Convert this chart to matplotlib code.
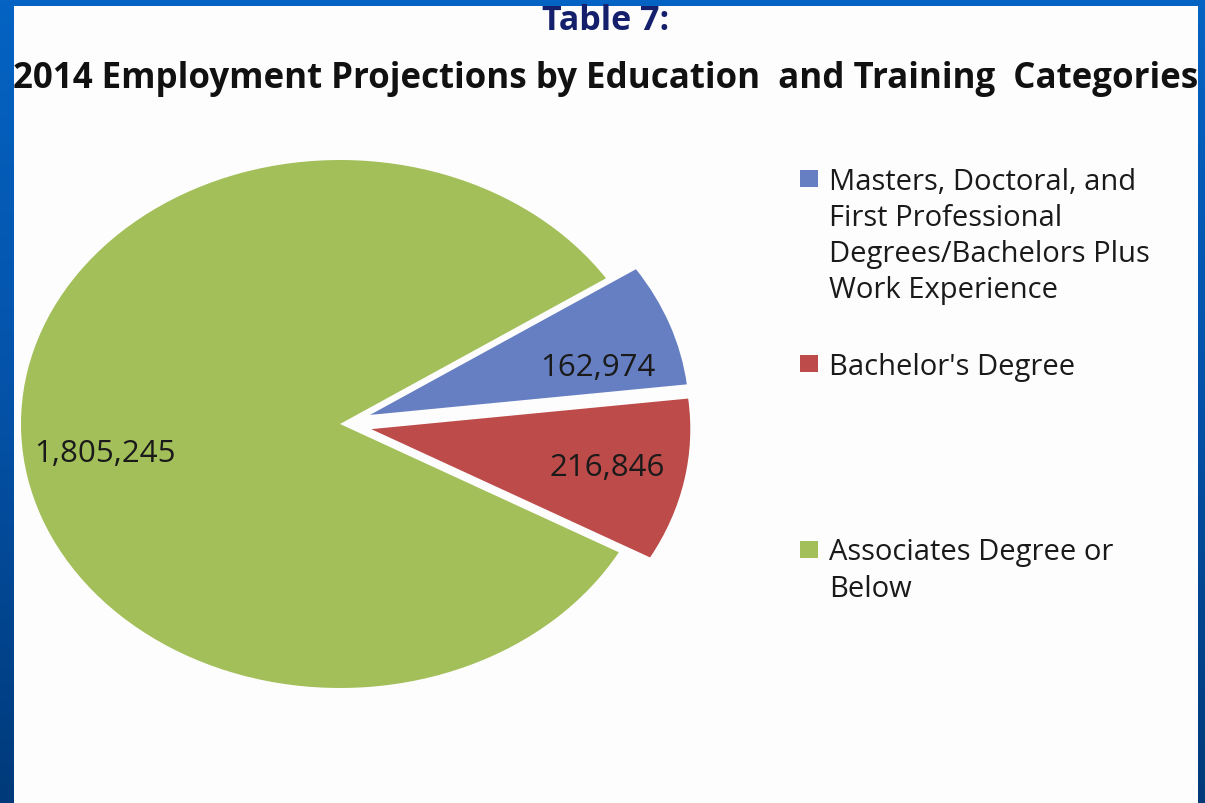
import matplotlib
matplotlib.use("Agg")
import numpy as np
import matplotlib.pyplot as plt
from matplotlib.colors import LinearSegmentedColormap
from matplotlib.transforms import ScaledTranslation

# ---------------- data ----------------
categories = [
    "Masters, Doctoral, and\nFirst Professional\nDegrees/Bachelors Plus\nWork Experience",
    "Bachelor's Degree",
    "Associates Degree or\nBelow",
]
values = [162974, 216846, 1805245]
colors = ["#667fc2", "#bd4b49", "#a3bf59"]
explode = [0.1, 0.1, 0.0]
title_top = "Table 7:"
title_main = "2014 Employment Projections by Education  and Training  Categories"

# ---------------- figure ----------------
W, H, DPI = 1205, 804, 100
FONT = "Open Sans"
fig = plt.figure(figsize=(W / DPI, H / DPI), dpi=DPI)

# slide background (blue gradient border)
bg = fig.add_axes([0, 0, 1, 1])
bg.set_axis_off()
grad = np.linspace(0, 1, 256).reshape(-1, 1)
cmap = LinearSegmentedColormap.from_list("slide", ["#0563c3", "#0452a8", "#003a7a"])
bg.imshow(grad, aspect="auto", cmap=cmap, extent=[0, 1, 0, 1])

# white panel, mapped in pixels; pie centre and radii in pixels
pl, pr, pt, pb = 14, 1198, 7, 804
cx, cy, rx, ry = 340, 425, 319, 264
ax = fig.add_axes([pl / W, 1 - pb / H, (pr - pl) / W, (pb - pt) / H])
ax.set_facecolor("#fdfdfd")

total = sum(values)
wedges, texts, autotexts = ax.pie(
    values,
    colors=colors,
    explode=explode,
    startangle=33.5,
    counterclock=False,
    radius=1,
    center=(0, 0),
    autopct=lambda p: f"{p * total / 100:,.0f}",
    pctdistance=0.75,
    wedgeprops=dict(linewidth=0),
    textprops=dict(family=FONT, fontsize=22.5, color="#1a1a1a"),
    frame=True,
)
ax.set_aspect("auto")
ax.set_xlim((pl - cx) / rx, (pr - cx) / rx)
ax.set_ylim((cy - pb) / ry, (cy - pt) / ry)
ax.set_xticks([])
ax.set_yticks([])
for s in ax.spines.values():
    s.set_visible(False)

# small nudges of the value labels (pixels)
nudges = [(3, -20), (1, 1), (4, -21)]
for t, (dx, dy) in zip(autotexts, nudges):
    t.set_transform(t.get_transform() + ScaledTranslation(dx / DPI, dy / DPI, fig.dpi_scale_trans))

# titles
fig.text(606 / W, 1 - 21 / H, title_top, ha="center", va="center",
         family=FONT, fontweight="bold", fontsize=24.5, color="#15206c")
fig.text(606 / W, 1 - 79 / H, title_main, ha="center", va="center",
         family=FONT, fontweight="bold", fontsize=25.1, color="#111111")

# legend: every entry padded to the same number of lines
n_lines = max(c.count("\n") + 1 for c in categories)
labels = [c + "\n" * (n_lines - c.count("\n") - 1) for c in categories]
LEG_FS = 21
LINESP = 1.32
leg = fig.legend(
    wedges, labels,
    loc="upper left", bbox_to_anchor=(800 / W, 1 - 168 / H),
    frameon=False,
    prop=dict(family=FONT, size=LEG_FS),
    handlelength=0.62, handleheight=0.52, handletextpad=0.38,
    borderpad=0, borderaxespad=0, labelspacing=1.65,
)
for t in leg.get_texts():
    t.set_linespacing(LINESP)
    t.set_color("#1a1a1a")

# move each square marker level with the first line of its entry
fig.canvas.draw()
r = fig.canvas.get_renderer()
fs_px = LEG_FS * DPI / 72
for h, t in zip(leg.legend_handles, leg.get_texts()):
    te = t.get_window_extent(r)
    he = h.get_window_extent(r)
    dy_px = (te.y1 - 0.40 * fs_px) - (he.y0 + he.y1) / 2
    h.set_y(h.get_y() + dy_px * 72 / DPI)

fig.savefig("out.png", dpi=DPI)
